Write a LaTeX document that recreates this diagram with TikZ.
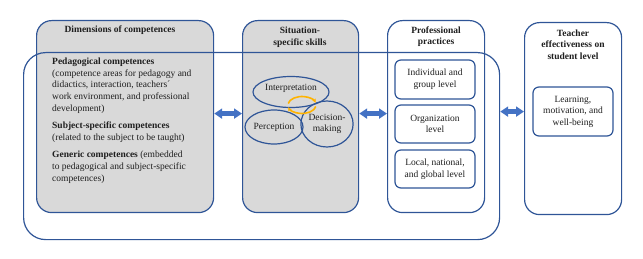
\documentclass[tikz,border=0pt]{standalone}
\usepackage{fontspec}
\setmainfont{Liberation Serif}
\usetikzlibrary{arrows.meta,shapes.geometric}
\definecolor{boxedge}{HTML}{2F5597}
\definecolor{arrowfill}{HTML}{4472C4}
\definecolor{panelgray}{HTML}{D9D9D9}
\definecolor{ringgold}{HTML}{FFB300}
\definecolor{ink}{HTML}{1F1F1F}
\newcommand{\figfont}{\fontsize{9.5pt}{11.6pt}\selectfont}

\tikzset{
  every node/.style={font=\figfont, text=ink},
  panel/.style={draw=boxedge, line width=1.2pt, rounded corners=15pt, anchor=north west, inner sep=0pt},
  level/.style={draw=boxedge, line width=1.2pt, rounded corners=6pt, minimum width=80pt, align=center, inner sep=0pt},
  skill/.style={draw=boxedge, line width=1.2pt, ellipse, inner sep=0pt, align=center},
  heading/.style={font=\figfont\bfseries, align=center},
  blockarrow/.style={draw=arrowfill, line width=5pt, {Triangle[length=8pt,width=10pt]}-{Triangle[length=8pt,width=10pt]}},
  ring/.style={draw=ringgold, line width=1.6pt, -{Stealth[length=4pt,width=4pt]}}
}

\begin{document}
\begin{tikzpicture}[x=1pt, y=-1pt]
  \useasboundingbox (0,0) rectangle (643,259);

  % the four columns
  \node[panel, fill=panelgray, minimum width=177pt, minimum height=192pt] (dims) at (36,20) {};
  \node[panel, fill=panelgray, minimum width=116pt, minimum height=192pt] (skills) at (242,20) {};
  \node[panel, fill=white, minimum width=97pt, minimum height=192pt] (practices) at (387,20) {};
  \node[panel, fill=white, minimum width=97pt, minimum height=192pt] (effect) at (524,22) {};

  % frame round the first three columns
  \node[panel, rounded corners=22pt, minimum width=476pt, minimum height=187pt] (frame) at (23,52) {};

  % headings
  \node[heading] (dimstitle) at (120,30) {Dimensions of competences};
  \node[heading] (skillstitle) at (300,37) {Situation-\\specific skills};
  \node[heading] (practicestitle) at (436,36.5) {Professional\\practices};
  \node[heading] (effecttitle) at (573,44.5) {Teacher\\effectiveness on\\student level};

  % competences
  \node[anchor=north west, inner sep=0pt, align=left] (dimstext) at (52,58) {%
    \textbf{Pedagogical competences}\\
    (competence areas for pedagogy and\\
    didactics, interaction, teachers´\\
    work environment, and professional\\
    development)\\[6pt]
    \textbf{Subject-specific competences}\\
    (related to the subject to be taught)\\[6pt]
    \textbf{Generic competences} (embedded\\
    to pedagogical and subject-specific\\
    competences)};

  % skills
  \node[skill, minimum width=76pt, minimum height=31pt, text depth=9pt] (interp) at (291,92) {Interpretation};
  \node[skill, minimum width=58pt, minimum height=34pt] (percep) at (274,127) {Perception};
  \node[skill, minimum width=48pt, minimum height=46pt] (decide) at (327,124) {Decision-\\making};
  \coordinate (ringmid) at (302,105);
  \draw[ring] (ringmid) ++(190:14 and 8.5) arc[start angle=190, end angle=345, x radius=14, y radius=8.5];
  \draw[ring] (ringmid) ++(10:14 and 8.5) arc[start angle=10, end angle=165, x radius=14, y radius=8.5];

  % levels
  \node[level, minimum height=39pt] (levelind) at (435,79.5) {Individual and\\group level};
  \node[level, minimum height=38pt] (levelorg) at (435,124) {Organization\\level};
  \node[level, minimum height=38pt] (levelglob) at (435,169) {Local, national,\\and global level};
  \node[level, minimum height=49pt] (outcome) at (573,111.5) {Learning,\\motivation, and\\well-being};

  % block arrows
  \coordinate (frameport) at ([yshift=7pt]effect.west -| frame.east);
  \draw[blockarrow] ([yshift=3pt]dims.east) -- ([yshift=3pt]skills.west);
  \draw[blockarrow] ([yshift=3pt]skills.east) -- ([yshift=3pt]practices.west);
  \draw[blockarrow] (frameport) -- ([yshift=7pt]effect.west);
\end{tikzpicture}
\end{document}
